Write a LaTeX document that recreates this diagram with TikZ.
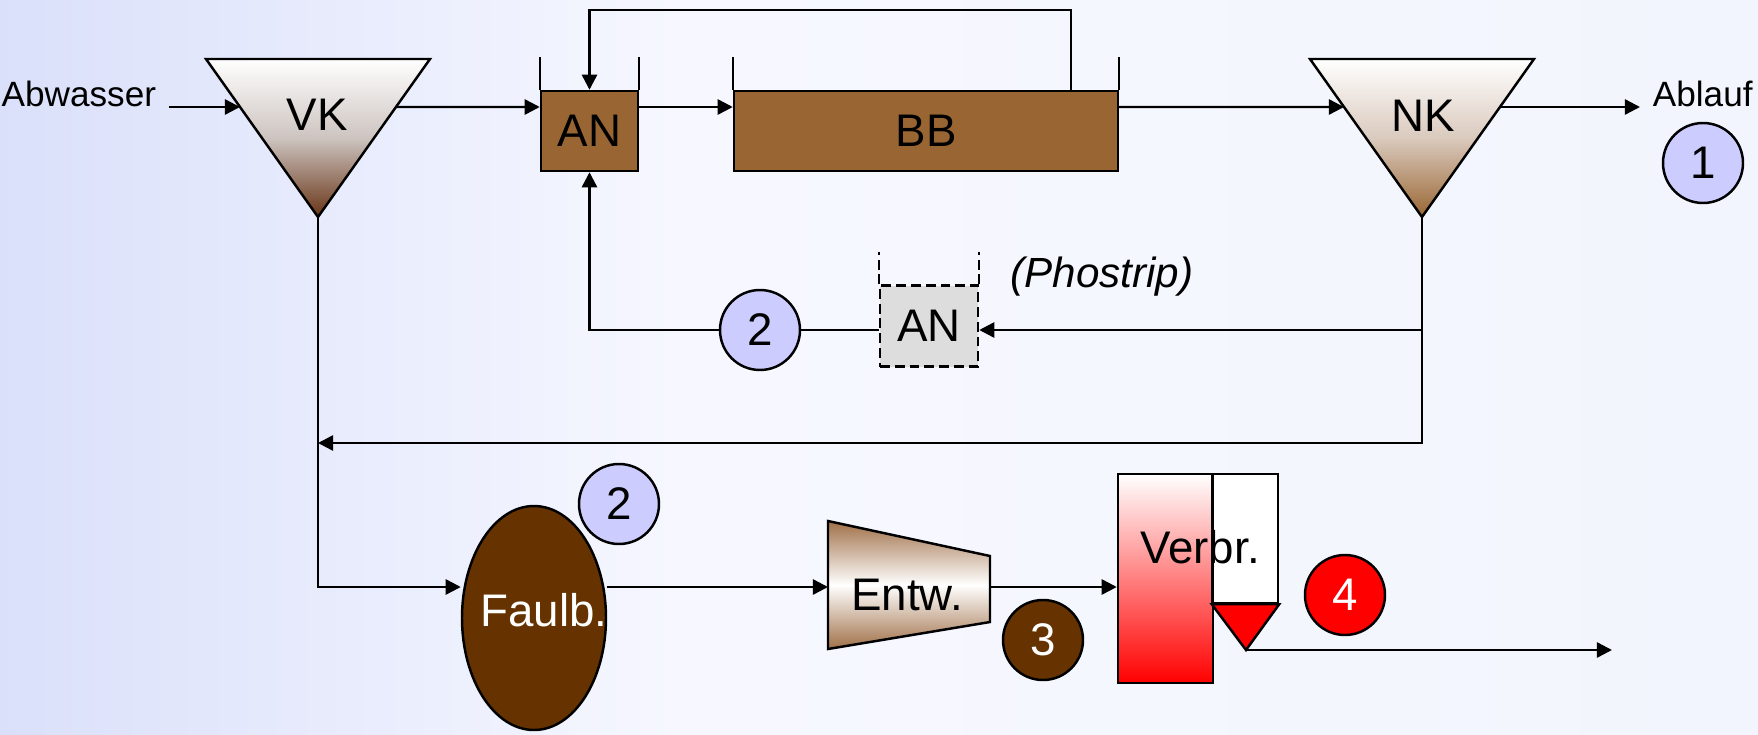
\documentclass[tikz,border=0pt]{standalone}
\usepackage{fontspec}
\setmainfont{Liberation Sans}
\usepackage{tikz}
\usetikzlibrary{arrows.meta,shapes.geometric}
\definecolor{bgleft}{RGB}{218,224,250}
\definecolor{bgmid}{RGB}{247,248,255}
\definecolor{bgright}{RGB}{242,245,253}
\definecolor{tankbrown}{RGB}{153,102,51}
\definecolor{sludge}{RGB}{102,51,0}
\definecolor{vkmid}{RGB}{205,196,192}
\definecolor{vkbot}{RGB}{104,52,22}
\definecolor{nkmid}{RGB}{218,202,190}
\definecolor{entwbr}{RGB}{160,112,72}
\definecolor{lav}{RGB}{204,204,255}
\definecolor{phgray}{RGB}{221,221,221}

\begin{document}
\begin{tikzpicture}[x=0.1mm,y=-0.1mm,line width=0.7pt,
  every node/.style={font=\fontsize{13}{15}\selectfont},
  arr/.style={-{Triangle[length=4.3pt,width=4.3pt]}},
  tank/.style={draw,fill=tankbrown,minimum height=8mm,inner sep=0pt},
  pmark/.style={circle,draw,minimum size=8mm,inner sep=0pt},
  small/.style={font=\fontsize{10}{12}\selectfont}]
% background
\fill[left color=bgleft,right color=bgmid] (0,0) rectangle (700,735);
\fill[left color=bgmid,right color=bgright] (700,0) rectangle (1758,735);
\useasboundingbox (0,0) rectangle (1758,735);

% Vorklaerung
\path[draw,top color=white,bottom color=vkbot,middle color=vkmid] (206,59) -- (430,59) -- (318,217) -- cycle;
\node (vk) at (317,115) {VK};
\coordinate (vk in) at (240,107);
\coordinate (vk out) at (396,107);
\coordinate (vk tip) at (318,217);
\node[small,anchor=east] (abw) at (169,94) {Abwasser};
\draw[arr] (abw.east |- vk in) -- (vk in);

% Anaerob + Belebung
\node[tank,minimum width=9.7mm] (an) at (589.5,131) {AN};
\node[tank,minimum width=38.4mm] (bb) at (926,131) {BB};
\draw (an.north west) -- ++(0,-33) (an.north east) -- ++(0,-33);
\draw (bb.north west) -- ++(0,-33) (bb.north east) -- ++(0,-33);
\draw[arr] (vk out) -- ([yshift=2.4mm]an.west);
\draw[arr] ([yshift=2.4mm]an.east) -- ([yshift=2.4mm]bb.west);
\draw[arr] ([xshift=-4.8mm]bb.north east) -- ++(0,-80) -| (an.north);

% Nachklaerung
\path[draw,top color=white,bottom color=tankbrown,middle color=nkmid] (1310,59) -- (1534,59) -- (1422,217) -- cycle;
\node (nk) at (1423,116) {NK};
\coordinate (nk in) at (1344,107);
\coordinate (nk out) at (1500,107);
\coordinate (nk tip) at (1422,217);
\draw[arr] ([yshift=2.4mm]bb.east) -- (nk in);
\node[small,anchor=west] (abl) at (1640,94) {Ablauf};
\draw[arr] (nk out) -- (abl.west |- nk out);
\node[pmark,fill=lav] (m1) at (1703,163) {1};

% Phostrip
\node[draw,dash pattern=on 2.8pt off 1.4pt,fill=phgray,minimum width=9.8mm,minimum height=8.1mm,inner sep=0pt] (ph) at (929,326) {AN};
\draw[dash pattern=on 2.8pt off 1.4pt] (ph.north west) -- ++(0,-32) (ph.north east) -- ++(0,-32);
\node[font=\fontsize{12}{14}\selectfont\itshape] (phlbl) at (1102,277) {(Phostrip)};
\coordinate (nk split) at (1422,330);
\coordinate (vk low) at (318,443);
\draw[arr] (nk tip) |- (vk low);
\draw[arr] (nk split) -- (ph.east |- nk split);
\node[pmark,fill=lav] (m2a) at (760,330) {2};
\draw (ph.west |- nk split) -- (m2a);
\draw[arr] (m2a) -| (an.south);

% Schlammbehandlung
\node[ellipse,draw,fill=sludge,minimum width=14.4mm,minimum height=22.4mm,inner sep=0pt] (faul) at (534,618) {};
\node[text=white] (faultxt) at (544,610) {Faulb.};
\node[pmark,fill=lav] (m2b) at (619,504) {2};
\draw[arr] (vk tip) |- ([yshift=3.1mm]faul.west);

\path[draw,top color=entwbr,bottom color=entwbr,middle color=white] (828,521) -- (990,556) -- (990,622) -- (828,649) -- cycle;
\node (entw) at (907,595) {Entw.};
\coordinate (entw in) at (828,587);
\coordinate (entw out) at (990,587);
\draw[arr] (faul.east |- entw in) -- (entw in);
\node[pmark,fill=sludge,text=white] (m3) at (1043,640) {3};

% Verbrennung
\node[draw,top color=white,bottom color=red,minimum width=9.5mm,minimum height=20.9mm,inner sep=0pt] (ofen) at (1165.5,578.5) {};
\node[draw,fill=white,minimum width=6.5mm,minimum height=12.9mm,inner sep=0pt] (ofen2) at (1245.5,538.5) {};
\node (ofentxt) at (1200,547) {Verbr.};
\draw (ofen2.north west) -- (ofen2.south west);
\path[draw,fill=red] (ofen2.south west) -- (ofen2.south east) -- (1246,650) coordinate (ash) -- cycle;
\coordinate (ash out) at (1612,650);
\draw[arr] (ash) -- (ash out);
\draw[arr] (entw out) -- (ofen.west |- entw out);
\node[pmark,fill=red,text=white] (m4) at (1345,595) {4};
\end{tikzpicture}
\end{document}
